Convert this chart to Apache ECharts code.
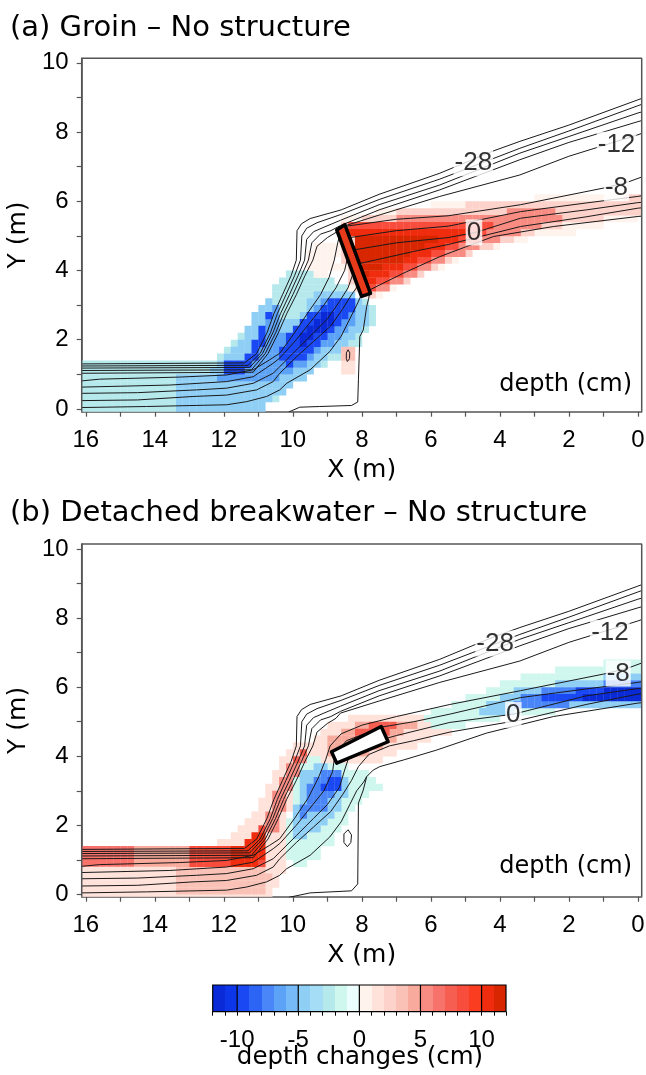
<!DOCTYPE html>
<html><head><meta charset="utf-8">
<script src="https://cdn.jsdelivr.net/npm/echarts@6/dist/echarts.min.js"></script>
<style>html,body{margin:0;padding:0;background:#fff}#c{width:646px;height:1075px}</style>
</head><body><div id="c"></div>
<script>
// ---------- tick labels ----------
const xTickLabels = [0, 2, 4, 6, 8, 10, 12, 14, 16];
const xTicks = [0,1,2,3,4,5,6,7,8,9,10,11,12,13,14,15,16];
const yTickLabels = [0, 2, 4, 6, 8, 10];
const yTicks = [0,1,2,3,4,5,6,7,8,9,10];
const cbTickLabels = [-10, -5, 0, 5, 10];
const cbTicks = [-12,-11,-10,-9,-8,-7,-6,-5,-4,-3,-2,-1,0,1,2,3,4,5,6,7,8,9,10,11,12];
const cbBins = [-12,-11,-10,-9,-8,-7,-6,-5,-4,-3,-2,-1,0,1,2,3,4,5,6,7,8,9,10,11];
const palette = ['#0a2ad8','#0c36e8','#1a48f2','#2c64f6','#4a86f8','#5ca2f6','#76baf8','#8fcff6',
  '#a6ddf6','#b6e9ec','#cff7ee','#ecfdfd','#fff3ed','#ffe2da','#fdd2ca','#fac2b6','#f8ab9c',
  '#f88c82','#f7726a','#f65e52','#f84c3c','#fa3c20','#f02c0e','#d82600'];

// ---------- depth contours (cm), [X, Y] in m ----------
const cU1 = [[16.12,1.30],[11.4,1.33],[11.05,1.6],[10.75,2.2],[10.55,2.75],[10.3,3.3],[10.05,3.85],[9.9,4.3],[9.88,5.15],[9.75,5.35],[9.5,5.5],[8.6,5.75],[7.5,6.2],[5.74,6.81],[4.2,7.45],[3.42,7.73],[2,8.2],[0,8.93],[-0.11,8.97]];
const cU2 = [[16.12,1.24],[11.3,1.26],[10.95,1.6],[10.65,2.2],[10.45,2.75],[10.2,3.3],[9.95,3.85],[9.78,4.3],[9.74,5.0],[9.6,5.22],[9.3,5.38],[8.6,5.62],[7.5,6.05],[5.74,6.64],[3.42,7.53],[2,8.03],[0,8.76],[-0.11,8.8]];
const cU3 = [[16.12,1.18],[11.25,1.2],[10.88,1.6],[10.58,2.2],[10.36,2.75],[10.1,3.3],[9.85,3.85],[9.66,4.3],[9.6,4.9],[9.4,5.12],[9.1,5.25],[8.62,5.45],[7.5,5.9],[5.74,6.47],[3.42,7.39],[2,7.87],[0,8.55],[-0.11,8.58]];
const cU4 = [[16.12,1.11],[11.2,1.13],[10.8,1.6],[10.5,2.2],[10.27,2.75],[10.0,3.3],[9.75,3.85],[9.55,4.3],[9.45,4.8],[9.2,5.05],[8.9,5.15],[8.62,5.3],[7.5,5.75],[5.74,6.33],[3.42,7.2],[2,7.7],[0,8.30],[-0.11,8.33]];
const cU5 = [[16.12,1.03],[11.15,1.06],[10.72,1.6],[10.42,2.2],[10.18,2.75],[9.9,3.3],[9.65,3.85],[9.42,4.3],[9.3,4.7],[9.0,4.95],[8.75,5.1],[8.62,5.25],[7.5,5.6],[5.74,6.14],[3.42,6.76],[2,7.3],[0,7.92],[-0.11,7.96]];

const cA_m8 = [[16.12,0.81],[15.6,0.86],[13.28,0.92],[11.92,0.98],[11.15,1.13],[10.67,1.42],[10.38,1.61],[9.95,2.2],[9.55,2.8],[9.2,3.3],[8.95,3.8],[8.8,4.3],[8.7,4.8],[8.62,5.1],[8.45,5.28],[7.0,5.48],[5.5,5.58],[3.4,5.9],[1.0,6.38],[0.3,6.55],[-0.11,6.7]];
const cA_m4 = [[16.12,0.63],[13.57,0.69],[11.92,0.79],[11.15,0.93],[10.57,1.32],[10.38,1.47],[9.9,2.0],[9.5,2.5],[9.1,3.0],[8.75,3.5],[8.5,4.0],[8.42,4.35],[8.35,4.95],[7.0,5.15],[5.5,5.28],[3.4,5.70],[1.5,5.95],[0,6.14],[-0.11,6.16]];
const cA_0 = [[16.12,0.45],[14.5,0.47],[12.8,0.55],[11.92,0.60],[11.15,0.74],[10.57,1.03],[10.38,1.22],[9.9,1.7],[9.4,2.2],[9.0,2.6],[8.65,3.1],[8.4,3.5],[8.26,3.9],[8.2,4.6],[7.0,4.8],[5.5,4.95],[4.7,5.1],[3.4,5.51],[1.5,5.75],[0,5.96],[-0.11,5.97]];
const cA_4 = [[16.12,0.24],[14.5,0.26],[12.89,0.36],[11.92,0.40],[11.05,0.55],[10.57,0.79],[10.38,1.03],[9.9,1.5],[9.4,1.95],[8.9,2.4],[8.55,2.9],[8.3,3.3],[8.12,3.55],[8.07,4.2],[6.5,4.55],[5.5,4.75],[3.4,5.27],[1.5,5.55],[0,5.80],[-0.11,5.81]];
const cA_8 = [[16.12,0.04],[14.24,0.07],[11.92,0.12],[11.34,0.21],[10.76,0.36],[10.38,0.55],[10.18,0.74],[9.5,1.13],[8.93,1.66],[8.6,2.1],[8.35,2.6],[8.15,3.0],[8.02,3.28],[7.77,3.44],[6.8,3.92],[5.74,4.40],[4.97,4.69],[4.19,4.98],[2.45,5.27],[0,5.56],[-0.11,5.57]];
const cA_edge = [[10.12,-0.09],[9.8,0.05],[9.22,0.07],[8.3,0.1],[8.12,0.2],[8.1,0.84],[8.06,2.09],[7.96,2.28],[7.86,2.96],[7.8,3.2],[7.77,3.44]];
const cA_loop = [[8.42,1.37],[8.36,1.45],[8.35,1.62],[8.4,1.71],[8.45,1.62],[8.45,1.45],[8.42,1.37]];

const cB_m8 = [[16.12,0.81],[15.6,0.86],[13.28,0.92],[11.92,0.98],[11.15,1.13],[10.67,1.42],[10.38,1.61],[9.95,2.2],[9.55,2.8],[9.25,3.4],[9.05,3.9],[8.92,4.3],[8.6,4.65],[8.0,4.9],[7.0,5.15],[5.45,5.5],[3.4,5.9],[1.0,6.38],[0.3,6.55],[-0.11,6.7]];
const cB_m4 = [[16.12,0.63],[13.57,0.69],[11.92,0.79],[11.15,0.93],[10.57,1.32],[10.38,1.47],[9.9,2.0],[9.5,2.5],[9.1,3.0],[8.85,3.55],[8.78,4.05],[8.45,4.45],[7.4,4.85],[6.5,5.0],[5.45,5.22],[3.4,5.70],[1.5,5.95],[0,6.14],[-0.11,6.16]];
const cB_0 = [[16.12,0.45],[14.5,0.47],[12.8,0.55],[11.92,0.60],[11.15,0.74],[10.57,1.03],[10.38,1.22],[9.9,1.7],[9.4,2.2],[9.0,2.6],[8.65,3.1],[8.5,3.6],[8.35,4.05],[7.9,4.35],[7.0,4.6],[5.45,4.98],[3.6,5.22],[1.5,5.75],[0,5.96],[-0.11,5.97]];
const cB_4 = [[16.12,0.24],[14.5,0.26],[12.89,0.36],[11.92,0.40],[11.05,0.55],[10.57,0.79],[10.38,1.03],[9.9,1.5],[9.4,1.95],[8.9,2.4],[8.55,2.9],[8.3,3.3],[8.1,3.7],[7.8,4.05],[7.2,4.3],[6.5,4.45],[5.45,4.7],[3.4,5.05],[1.5,5.5],[0,5.80],[-0.11,5.81]];
const cB_8 = [[16.12,0.04],[14.24,0.07],[11.92,0.12],[11.34,0.21],[10.76,0.36],[10.38,0.55],[10.18,0.74],[9.5,1.13],[8.93,1.66],[8.6,2.1],[8.35,2.6],[8.15,3.0],[7.95,3.25],[7.86,3.41],[7.67,3.6],[7.48,3.70],[6.8,3.89],[5.83,4.18],[4.39,4.67],[2.45,5.15],[0,5.54],[-0.11,5.55]];
const cB_edge = [[10.12,-0.09],[9.5,0.04],[8.3,0.1],[8.12,0.3],[8.1,2.64],[7.96,3.02],[7.86,3.41]];
const cB_loop = [[8.42,1.38],[8.32,1.5],[8.3,1.72],[8.4,1.87],[8.52,1.75],[8.52,1.5],[8.42,1.38]];

// contour labels [X, Y, text]
const labelsA = [[4.77,7.1,'-28'],[0.62,7.63,'-12'],[0.62,6.38,'-8'],[4.75,5.1,'0']];
const labelsB = [[4.14,7.27,'-28'],[0.81,7.57,'-12'],[0.57,6.4,'-8'],[3.61,5.2,'0']];

// structures
const groinA = [[8.73,5.17],[8.49,5.32],[7.75,3.34],[8.01,3.25]];
const breakwaterB = [[8.88,4.13],[7.44,4.86],[7.24,4.42],[8.73,3.80]];

// ---------- depth change zones (cm) ----------
const zA_band = [[16.2,-0.1],[16.2,1.36],[13.5,1.36],[13.5,-0.1]];
const zA_cyan = [[16.2,1.36],[12.8,1.36],[12.2,1.5],[11.8,1.8],[11.4,2.3],[11.0,2.8],[10.6,3.4],[10.3,3.75],[9.9,4.05],[9.4,4.05],[9.0,3.8],[8.6,3.6],[8.2,3.3],[7.75,3.1],[7.6,2.7],[7.75,2.4],[8.0,2.0],[8.4,1.6],[8.8,1.4],[9.2,1.2],[9.7,0.85],[10.2,0.5],[10.7,0.15],[11.0,-0.1],[16.2,-0.1]];
const zA_light = [[13.6,-0.1],[13.6,1.05],[12.4,1.1],[12.0,1.4],[11.6,1.9],[11.3,2.4],[11.0,2.9],[10.7,3.3],[10.5,3.3],[10.6,2.9],[10.4,2.5],[10.0,2.6],[9.6,3.0],[9.3,3.4],[8.9,3.5],[8.5,3.4],[8.1,3.2],[7.85,2.9],[7.9,2.5],[8.2,2.1],[8.6,1.75],[9.1,1.35],[9.6,0.95],[10.1,0.6],[10.6,0.25],[10.9,-0.1]];
const zA_mid = [[12.4,0.95],[12.0,1.05],[11.5,1.1],[11.2,1.5],[11.0,2.0],[10.8,2.5],[10.6,3.0],[10.45,2.95],[10.45,2.4],[10.2,2.2],[9.8,2.55],[9.4,2.95],[9.0,3.25],[8.6,3.3],[8.2,3.05],[8.1,2.75],[8.4,2.35],[8.8,1.95],[9.3,1.55],[9.8,1.2],[10.3,0.95],[10.8,0.75],[11.4,0.7],[12.0,0.75]];
const zA_blob = [[12.0,1.1],[11.4,1.1],[11.1,1.45],[10.9,1.9],[10.75,2.4],[10.65,2.75],[10.8,2.75],[10.95,2.3],[11.15,1.85],[11.4,1.5],[11.8,1.35],[12.1,1.3]];
const zA_core = [[10.2,1.2],[9.6,1.55],[9.1,1.95],[8.7,2.35],[8.3,2.8],[8.25,3.15],[8.7,3.25],[9.1,3.05],[9.5,2.75],[9.9,2.35],[10.25,1.95],[10.5,1.55]];
const zA_deep = [[9.8,1.75],[9.2,2.2],[8.75,2.65],[8.9,2.85],[9.35,2.55],[9.9,2.1]];
const zA_pinkSlope = [[9.75,3.95],[9.45,4.7],[9.1,4.9],[8.8,4.7],[8.7,4.1],[9.0,3.85]];
const zA_pinkSpot = [[8.52,1.1],[8.28,1.1],[8.28,1.9],[8.52,1.9]];
const zA_pinkSpot2 = [[8.52,1.5],[8.28,1.5],[8.28,1.9],[8.52,1.9]];
const zA_w1 = [[8.6,5.5],[7.0,5.8],[5.0,6.0],[3.0,6.1],[1.0,6.18],[-0.2,6.22],[-0.2,5.55],[0.7,5.4],[1.8,5.1],[3.2,4.9],[4.6,4.55],[6.3,3.85],[7.7,3.15],[8.3,3.4],[8.75,4.6]];
const zA_w2 = [[8.5,5.42],[7.0,5.7],[5.0,5.9],[3.0,6.0],[1.0,6.08],[-0.2,6.12],[-0.2,5.7],[1.0,5.5],[2.5,5.25],[4.0,4.8],[5.5,4.25],[6.8,3.65],[7.7,3.25],[8.3,3.5],[8.6,4.5]];
const zA_w3 = [[8.45,5.38],[6.5,5.55],[4.5,5.65],[2.5,5.8],[2.2,5.5],[3.2,5.15],[4.3,4.8],[5.4,4.35],[6.4,3.9],[7.3,3.45],[7.8,3.3]];
const zA_w4 = [[8.42,5.3],[6.5,5.4],[4.2,5.45],[4.4,5.0],[5.5,4.55],[6.5,4.05],[7.4,3.55],[7.85,3.42]];
const zA_w5 = [[8.38,5.18],[6.5,5.2],[4.9,5.15],[5.6,4.7],[6.6,4.2],[7.4,3.8],[7.88,3.6]];
const zA_w6 = [[8.32,5.0],[6.6,4.95],[5.9,4.9],[6.9,4.3],[7.6,3.95],[8.0,3.85]];
const zonesA = [[-2.5,zA_cyan],[-4.5,zA_light],[-6.5,zA_mid],[-9.5,zA_blob],[-9.5,zA_core],[-11.5,zA_deep],
  [0.5,zA_pinkSlope],[1.5,zA_pinkSpot],[3.5,zA_pinkSpot2],
  [0.5,zA_w1],[2.5,zA_w2],[5.5,zA_w3],[8.5,zA_w4],[10.5,zA_w5],[11.5,zA_w6],[-2.5,zA_band]];

const zB_band = [[16.2,-0.1],[16.2,0.88],[13.5,0.88],[13.5,-0.1]];
const zB_pink0 = [[16.2,-0.1],[16.2,1.36],[12.6,1.36],[11.8,1.6],[11.2,2.3],[10.8,3.0],[10.4,3.8],[10.0,4.3],[9.5,4.5],[9.25,4.2],[9.7,3.6],[10.0,2.8],[10.2,2.0],[10.3,1.2],[10.3,0.6],[10.6,-0.1]];
const zB_pink1 = [[13.6,0.1],[13.6,0.88],[11.0,0.88],[10.7,0.5],[10.8,0.1]];
const zB_strip = [[16.2,0.88],[16.2,1.32],[11.6,1.32],[11.4,0.88]];
const zB_strip2 = [[14.7,0.88],[14.7,1.32],[13.1,1.32],[13.1,0.88]];
const zB_red1 = [[13.0,0.88],[13.0,1.32],[11.6,1.4],[11.2,1.7],[10.9,2.0],[10.75,1.2],[10.9,0.88]];
const zB_red2 = [[11.9,0.9],[11.9,1.32],[11.4,1.45],[11.1,1.85],[10.85,1.75],[10.75,1.2],[10.95,0.9]];
const zB_steep = [[10.85,1.8],[10.6,2.8],[10.3,3.4],[10.0,4.0],[9.6,4.3],[9.5,4.15],[9.85,3.55],[10.15,2.85],[10.35,2.2],[10.55,1.8]];
const zB_steep2 = [[10.05,3.8],[9.55,4.35],[9.45,4.2],[9.95,3.75]];
const zB_bw1 = [[9.3,3.85],[9.35,4.6],[8.8,5.0],[7.8,5.25],[6.5,5.3],[5.5,5.2],[5.5,4.7],[6.5,4.3],[7.5,3.9],[8.3,3.8]];
const zB_bw2 = [[8.95,4.0],[8.95,4.5],[8.0,4.95],[7.0,5.05],[6.5,4.9],[7.2,4.4],[8.0,4.0]];
const zB_bw3 = [[8.15,4.35],[7.1,4.75],[7.05,4.95],[7.6,4.95],[8.25,4.65]];
const zB_c1 = [[10.3,1.2],[10.1,2.2],[10.0,3.0],[9.8,3.8],[9.4,4.0],[9.0,3.8],[8.5,3.7],[7.8,3.6],[7.7,3.2],[8.0,2.8],[8.4,2.2],[8.8,1.6],[9.3,1.1],[9.8,0.8]];
const zB_c2 = [[10.05,1.6],[9.9,2.6],[9.75,3.5],[9.3,3.8],[8.8,3.65],[8.35,3.35],[8.45,2.8],[8.8,2.25],[9.3,1.75]];
const zB_c3 = [[9.8,2.2],[9.6,3.2],[9.2,3.55],[8.7,3.5],[8.7,3.0],[9.1,2.5]];
const zB_c4 = [[9.3,2.9],[9.0,3.45],[8.6,3.4],[8.75,2.95]];
const zB_c5 = [[8.1,2.8],[7.5,3.1],[7.6,3.45],[8.1,3.45]];
const zB_d1 = [[5.8,4.75],[4.5,5.0],[3.4,5.2],[2.0,5.35],[0.5,5.4],[-0.2,5.42],[-0.2,6.8],[1.0,6.7],[2.5,6.5],[3.5,6.3],[4.5,5.9],[5.5,5.5],[6.2,5.2]];
const zB_d2 = [[4.8,5.1],[3.4,5.35],[2.0,5.45],[0.5,5.5],[-0.2,5.5],[-0.2,6.4],[1.0,6.3],[2.5,6.1],[3.4,5.95],[4.5,5.45]];
const zB_d3 = [[3.6,5.45],[2.0,5.5],[-0.2,5.55],[-0.2,6.2],[1.0,6.1],[2.5,5.95],[3.4,5.75]];
const zB_d4 = [[3.0,5.5],[1.0,5.55],[-0.2,5.58],[-0.2,6.1],[1.0,6.0],[2.6,5.82]];
const zB_d5 = [[1.8,5.62],[-0.2,5.62],[-0.2,5.98],[1.0,5.9]];
const zonesB = [[1.5,zB_pink0],[3.5,zB_pink1],[6.5,zB_strip],[4.5,zB_strip2],[8.5,zB_red1],[10.5,zB_red2],
  [5.5,zB_steep],[7.5,zB_steep2],[1.5,zB_bw1],[4.5,zB_bw2],[7.5,zB_bw3],
  [-1.5,zB_c1],[-4.5,zB_c2],[-7.5,zB_c3],[-9.5,zB_c4],[-1.5,zB_c5],
  [-1.5,zB_d1],[-4.5,zB_d2],[-7.5,zB_d3],[-9.5,zB_d4],[-11.5,zB_d5],[1.5,zB_band]];

// ---------- helpers ----------
const CELL = 0.2, HALF = 0.1;
const X_MIN = -0.11, X_MAX = 16.12;
const YA = [-0.08, 10.13], YB = [-0.07, 10.15];
const NUM_FONT = '"Liberation Sans", Arial, sans-serif';
const TXT_FONT = '"DejaVu Sans", sans-serif';
function colorOf(v){ return palette[Math.max(0, Math.min(23, Math.floor(v) + 12))]; }
function inside(x, y, poly){
  let c = false;
  for (let i = 0, j = poly.length - 1; i < poly.length; j = i++) {
    const xi = poly[i][0], yi = poly[i][1], xj = poly[j][0], yj = poly[j][1];
    if (((yi > y) !== (yj > y)) && (x < (xj - xi) * (y - yi) / (yj - yi) + xi)) c = !c;
  }
  return c;
}
function rasterize(zones){
  const cells = new Map();
  for (const [v, poly] of zones) {
    for (let i = -1; i <= 81; i++) {
      const cx = +(i * CELL + HALF).toFixed(2);
      for (let j = -1; j <= 51; j++) {
        const cy = +(j * CELL + HALF).toFixed(2);
        if (inside(cx, cy, poly)) { const k = i + ',' + j; cells.delete(k); cells.set(k, [cx, cy, v]); }
      }
    }
  }
  return Array.from(cells.values());
}
function cellRender(params, api){
  const x = api.value(0), y = api.value(1), v = api.value(2);
  const a = api.coord([x - HALF, y - HALF]), b = api.coord([x + HALF, y + HALF]);
  return {type:'rect', shape:{x:Math.min(a[0], b[0]), y:Math.min(a[1], b[1]),
    width:Math.abs(a[0] - b[0]) + 0.3, height:Math.abs(a[1] - b[1]) + 0.3}, style:{fill:colorOf(v)}};
}
function cellSeries(data, xi, yi){
  return {type:'custom', xAxisIndex:xi, yAxisIndex:yi, data, encode:{x:0, y:1}, clip:true, renderItem:cellRender};
}
function lineSeries(arr, xi, yi){
  return {type:'line', xAxisIndex:xi, yAxisIndex:yi, data:arr.map(p => [p[0], p[1]]), symbol:'none', z:3,
    lineStyle:{color:'#1a1a1a', width:1}};
}
function structSeries(poly, fill, xi, yi){
  return {type:'custom', xAxisIndex:xi, yAxisIndex:yi, data:[[poly[0][0], poly[0][1]]], z:5,
    renderItem:(params, api) => ({type:'polygon', shape:{points: poly.map(p => api.coord(p))},
      style:{fill:fill, stroke:'#000', lineWidth:3.5, lineJoin:'round'}})};
}
function labelSeries(labels, xi, yi){
  return {type:'scatter', xAxisIndex:xi, yAxisIndex:yi, symbolSize:0, z:6,
    data: labels.map(l => ({value:[l[0], l[1]], name:l[2]})),
    label:{show:true, position:'inside', formatter:'{b}', fontSize:26, fontFamily:NUM_FONT, color:'#000',
      backgroundColor:'#fff', padding:[0,1]}};
}
function xAxisOf(g){
  return {type:'value', gridIndex:g, inverse:true, min:X_MIN, max:X_MAX, position:'bottom',
    axisLine:{show:true, onZero:false, lineStyle:{color:'#555', width:1.5}},
    axisTick:{show:true, inside:false, length:5, customValues:xTicks, lineStyle:{color:'#555', width:1.2}},
    axisLabel:{show:true, customValues:xTickLabels, margin:17, fontSize:24, fontFamily:NUM_FONT, color:'#000'},
    splitLine:{show:false},
    name:'X (m)', nameLocation:'middle', nameGap:46, nameTextStyle:{fontSize:25, fontFamily:TXT_FONT, color:'#000'}};
}
function yAxisOf(g, yb){
  return {type:'value', gridIndex:g, min:yb[0], max:yb[1], position:'left',
    axisLine:{show:true, onZero:false, lineStyle:{color:'#555', width:1.5}},
    axisTick:{show:true, inside:false, length:5, customValues:yTicks, lineStyle:{color:'#555', width:1.2}},
    axisLabel:{show:true, customValues:yTickLabels, margin:13, fontSize:24, fontFamily:NUM_FONT, color:'#000'},
    splitLine:{show:false},
    name:'Y (m)', nameLocation:'middle', nameGap:42, nameTextStyle:{fontSize:25, fontFamily:TXT_FONT, color:'#000'}};
}

const cellsA = rasterize(zonesA);
const cellsB = rasterize(zonesB);
const contoursA = [cU1, cU2, cU3, cU4, cU5, cA_m8, cA_m4, cA_0, cA_4, cA_8, cA_edge, cA_loop];
const contoursB = [cU1, cU2, cU3, cU4, cU5, cB_m8, cB_m4, cB_0, cB_4, cB_8, cB_edge, cB_loop];

const series = [];
series.push(cellSeries(cellsA, 0, 0));
contoursA.forEach(c => series.push(lineSeries(c, 0, 0)));
series.push(structSeries(groinA, '#e63a1a', 0, 0));
series.push(labelSeries(labelsA, 0, 0));
series.push(cellSeries(cellsB, 1, 1));
contoursB.forEach(c => series.push(lineSeries(c, 1, 1)));
series.push(structSeries(breakwaterB, '#ffffff', 1, 1));
series.push(labelSeries(labelsB, 1, 1));
// colour bar
series.push({type:'custom', xAxisIndex:2, yAxisIndex:2, data:cbBins.map(b => [b, 0]), z:1,
  renderItem:(params, api) => {
    const v = api.value(0);
    const p = api.coord([v, 1]), q = api.coord([v + 1, 0]);
    const l = Math.round(p[0]), r = Math.round(q[0]), t = Math.round(p[1]), b = Math.round(q[1]);
    return {type:'rect', shape:{x:l, y:t, width:r - l, height:b - t}, style:{fill:colorOf(v + 0.5)}};
  }});
series.push({type:'custom', xAxisIndex:2, yAxisIndex:2, data:cbTickLabels.map(b => [b, 0]), z:2,
  renderItem:(params, api) => {
    const v = api.value(0);
    const p = api.coord([v, 1]), q = api.coord([v, 0]);
    return {type:'line', shape:{x1:p[0], y1:p[1], x2:q[0], y2:q[1]}, style:{stroke:'#000', lineWidth:1.2}};
  }});
series.push({type:'custom', xAxisIndex:2, yAxisIndex:2, data:[[cbTicks[0], 0]], z:3,
  renderItem:(params, api) => {
    const p = api.coord([cbTicks[0], 1]), q = api.coord([cbTicks[cbTicks.length - 1], 0]);
    return {type:'rect', shape:{x:p[0], y:p[1], width:q[0] - p[0], height:q[1] - p[1]},
      style:{fill:'none', stroke:'#000', lineWidth:1.2}};
  }});
// plot frames (top and right edges) drawn through the axes' scales
[[0, YA], [1, YB]].forEach(([g, yb]) => {
  series.push({type:'line', xAxisIndex:g, yAxisIndex:g, symbol:'none', z:8, clip:false,
    data:[[X_MAX, yb[0]], [X_MAX, yb[1]], [X_MIN, yb[1]], [X_MIN, yb[0]]],
    lineStyle:{color:'#555', width:1.5}});
});

const option = {
  animation:false,
  grid:[
    {left:81.7, top:58.3, width:560, height:353.4, outerBoundsMode:'none', containLabel:false},
    {left:81.7, top:544, width:560, height:352.7, outerBoundsMode:'none', containLabel:false},
    {left:212.7, top:985, width:293.3, height:26.7, outerBoundsMode:'none', containLabel:false}
  ],
  xAxis:[xAxisOf(0), xAxisOf(1),
    {type:'value', gridIndex:2, min:-12, max:12, position:'bottom',
      axisLine:{show:false}, axisTick:{show:true, length:4, customValues:cbTicks, lineStyle:{color:'#000', width:1}},
      axisLabel:{customValues:cbTickLabels, margin:17, fontSize:24, fontFamily:NUM_FONT, color:'#000'},
      splitLine:{show:false}}],
  yAxis:[yAxisOf(0, YA), yAxisOf(1, YB),
    {type:'value', gridIndex:2, min:0, max:1, show:false}],
  series,
  graphic:[
    {type:'text', x:10, y:28, style:{text:'(a) Groin – No structure', font:'29px ' + TXT_FONT, fill:'#000', align:'left', verticalAlign:'middle'}},
    {type:'text', x:10, y:513, style:{text:'(b) Detached breakwater – No structure', font:'29px ' + TXT_FONT, fill:'#000', align:'left', verticalAlign:'middle'}},
    {type:'text', x:632, y:385, z:20, style:{text:'depth (cm)', font:'24px ' + TXT_FONT, fill:'#000', align:'right', verticalAlign:'middle'}},
    {type:'text', x:632, y:867, z:20, style:{text:'depth (cm)', font:'24px ' + TXT_FONT, fill:'#000', align:'right', verticalAlign:'middle'}},
    {type:'text', x:360, y:1058, style:{text:'depth changes (cm)', font:'24.5px ' + TXT_FONT, fill:'#000', align:'center', verticalAlign:'middle'}}
  ]
};
const chart = echarts.init(document.getElementById('c'), null, {renderer:'canvas'});
chart.setOption(option);
</script>
</body></html>
